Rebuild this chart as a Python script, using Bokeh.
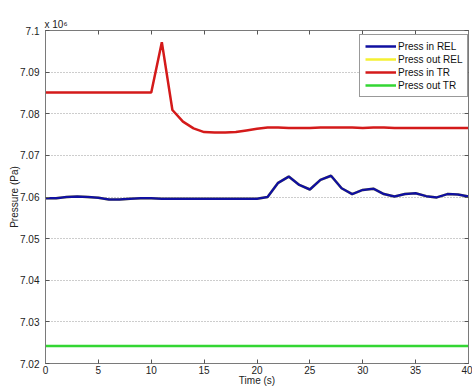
from bokeh.plotting import figure
from bokeh.models import (LinearAxis, FixedTicker, CustomJSTickFormatter, Legend,
                          LegendItem, Range1d)
from bokeh.embed import file_html
from bokeh.resources import INLINE

# Time (s)
t = list(range(0, 41))

# Pressures in units of 1e6 Pa
press_in_rel = [7.0597, 7.0597, 7.0600, 7.0601, 7.0600, 7.0598, 7.0594, 7.0594, 7.0596, 7.0597,
                7.0597, 7.0596, 7.0596, 7.0596, 7.0596, 7.0596, 7.0596, 7.0596, 7.0596, 7.0596,
                7.0596, 7.0600, 7.0634, 7.0649, 7.0629, 7.0618, 7.0641, 7.0651, 7.0621, 7.0607,
                7.0617, 7.0620, 7.0607, 7.0601, 7.0607, 7.0609, 7.0602, 7.0599, 7.0607, 7.0606,
                7.0601]
press_out_rel = [7.0597, 7.0597, 7.0600, 7.0601, 7.0600, 7.0598, 7.0594, 7.0594, 7.0596, 7.0597,
                 7.0597, 7.0596, 7.0596, 7.0596, 7.0596, 7.0596, 7.0596, 7.0596, 7.0596, 7.0596,
                 7.0596, 7.0600, 7.0634, 7.0649, 7.0629, 7.0618, 7.0641, 7.0651, 7.0621, 7.0607,
                 7.0617, 7.0620, 7.0607, 7.0601, 7.0607, 7.0609, 7.0602, 7.0599, 7.0607, 7.0606,
                 7.0601]
press_in_tr = [7.0851, 7.0851, 7.0851, 7.0851, 7.0851, 7.0851, 7.0851, 7.0851, 7.0851, 7.0851,
               7.0851, 7.0972, 7.0809, 7.0781, 7.0765, 7.0756, 7.0755, 7.0755, 7.0756, 7.0760,
               7.0764, 7.0767, 7.0767, 7.0766, 7.0766, 7.0766, 7.0767, 7.0767, 7.0767, 7.0767,
               7.0766, 7.0767, 7.0767, 7.0766, 7.0766, 7.0766, 7.0766, 7.0766, 7.0766, 7.0766,
               7.0766]
press_out_tr = [7.0242] * 41

series_names = ["Press in REL", "Press out REL", "Press in TR", "Press out TR"]
series_colors = ["#1010a0", "#f5f032", "#d41a1a", "#33d633"]

y_ticks = [7.02, 7.03, 7.04, 7.05, 7.06, 7.07, 7.08, 7.09, 7.10]
x_ticks = [0, 5, 10, 15, 20, 25, 30, 35, 40]

FONT = "Liberation Sans"

p = figure(width=472, height=388, output_backend="svg", toolbar_location=None,
           x_range=Range1d(0, 40), y_range=Range1d(7.02, 7.10),
           min_border_left=45, min_border_right=4, min_border_top=30, min_border_bottom=0,
           x_axis_label="Time (s)", y_axis_label="Pressure (Pa)")
p.background_fill_color = "white"
p.border_fill_color = "white"
p.outline_line_color = "#7a7a7a"

p.title.text = "x 10\u2076"
p.title.align = "left"
p.title.text_font = FONT
p.title.text_font_size = "10px"
p.title.text_font_style = "normal"
p.title.text_color = "#222222"
p.title.offset = -1
p.title.standoff = 2

fmt = CustomJSTickFormatter(code="return String(Number(tick.toFixed(2)));")
blank = CustomJSTickFormatter(code="return '';")

for ax in p.xaxis:
    ax.ticker = FixedTicker(ticks=x_ticks)
for ax in p.yaxis:
    ax.ticker = FixedTicker(ticks=y_ticks)
    ax.formatter = fmt

for ax in list(p.xaxis) + list(p.yaxis):
    ax.major_tick_in = 4
    ax.major_tick_out = 0
    ax.minor_tick_in = 0
    ax.minor_tick_out = 0
    ax.axis_line_color = "#7a7a7a"
    ax.major_tick_line_color = "#555555"
    ax.major_label_text_font = FONT
    ax.major_label_text_font_size = "10px"
    ax.major_label_text_color = "#222222"
    ax.axis_label_text_font = FONT
    ax.axis_label_text_font_size = "10px"
    ax.axis_label_text_font_style = "normal"
    ax.axis_label_text_color = "#222222"
p.xaxis.major_label_standoff = 2
p.xaxis.axis_label_standoff = -2
p.yaxis.major_label_standoff = 6
p.yaxis.axis_label_standoff = -3

top = LinearAxis(ticker=FixedTicker(ticks=x_ticks), formatter=blank,
                 major_tick_in=4, major_tick_out=0, minor_tick_in=0, minor_tick_out=0,
                 axis_line_color="#7a7a7a", major_tick_line_color="#555555",
                 major_label_standoff=0)
right = LinearAxis(ticker=FixedTicker(ticks=y_ticks), formatter=blank,
                   major_tick_in=4, major_tick_out=0, minor_tick_in=0, minor_tick_out=0,
                   axis_line_color="#7a7a7a", major_tick_line_color="#555555",
                   major_label_standoff=0)
p.add_layout(top, "above")
p.add_layout(right, "right")

p.xgrid.visible = False
p.ygrid.ticker = FixedTicker(ticks=y_ticks)
p.ygrid.grid_line_color = "#9a9a9a"
p.ygrid.grid_line_dash = "1 2"
p.ygrid.grid_line_width = 1

series = [press_in_rel, press_out_rel, press_in_tr, press_out_tr]
order = [1, 0, 2, 3]
renderers = {}
for i in order:
    renderers[i] = p.line(t, series[i], line_color=series_colors[i], line_width=2.5)

items = [LegendItem(label=series_names[i], renderers=[renderers[i]]) for i in range(4)]
legend = Legend(items=items, location=(314, 266), margin=0,
                label_text_font=FONT, label_text_font_size="10px",
                label_text_color="#111111", glyph_width=31, glyph_height=12,
                label_height=12, spacing=1, padding=5, label_standoff=2,
                border_line_color="#333333", border_line_width=1,
                background_fill_alpha=1.0)
p.add_layout(legend)

open("out.html", "w").write(file_html(p, INLINE))
